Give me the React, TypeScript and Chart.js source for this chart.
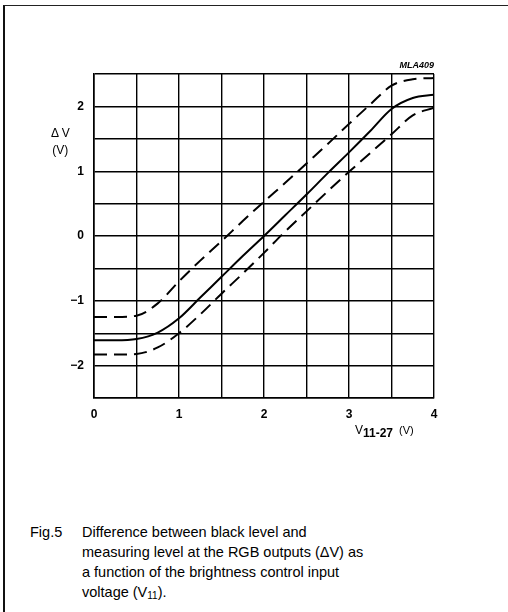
import React, { useEffect, useRef } from "react";
import { Chart, registerables } from "chart.js";

Chart.register(...registerables);

const xValues = [0, 0.25, 0.5, 0.75, 1, 1.25, 1.5, 1.75, 2, 2.25, 2.5, 2.75, 3, 3.25, 3.5, 3.75, 4];
const typicalDV = [-1.61, -1.61, -1.59, -1.49, -1.27, -0.95, -0.63, -0.31, 0, 0.32, 0.64, 0.97, 1.29, 1.62, 1.96, 2.13, 2.18];
const upperDV = [-1.25, -1.25, -1.23, -1.04, -0.7, -0.38, -0.08, 0.23, 0.53, 0.82, 1.12, 1.42, 1.73, 2.03, 2.32, 2.42, 2.44];
const lowerDV = [-1.83, -1.83, -1.82, -1.72, -1.5, -1.21, -0.89, -0.58, -0.26, 0.07, 0.38, 0.69, 0.99, 1.28, 1.57, 1.86, 1.98];
const xTickLabels = ["0", "1", "2", "3", "4"];
const yTickLabels = ["\u22122", "\u22121", "0", "1", "2"];

const toPoints = (ys: number[]) => xValues.map((x, i) => ({ x, y: ys[i] }));

export default function App() {
  const ref = useRef<HTMLCanvasElement | null>(null);

  useEffect(() => {
    if (!ref.current) return;
    const chart = new Chart(ref.current, {
      type: "line",
      data: {
        datasets: [
          {
            data: toPoints(upperDV),
            borderColor: "#000",
            borderWidth: 2,
            borderDash: [13, 7],
            pointRadius: 0,
            cubicInterpolationMode: "monotone",
          },
          {
            data: toPoints(typicalDV),
            borderColor: "#000",
            borderWidth: 2,
            pointRadius: 0,
            cubicInterpolationMode: "monotone",
          },
          {
            data: toPoints(lowerDV),
            borderColor: "#000",
            borderWidth: 2,
            borderDash: [13, 7],
            pointRadius: 0,
            cubicInterpolationMode: "monotone",
          },
        ],
      },
      options: {
        animation: false,
        responsive: false,
        devicePixelRatio: 1,
        layout: { padding: { left: 0, top: 74, right: 74, bottom: 0 } },
        plugins: { legend: { display: false }, tooltip: { enabled: false } },
        scales: {
          x: {
            type: "linear",
            min: 0,
            max: 4,
            afterFit: (s: any) => {
              s.height = 62;
            },
            grid: { color: "#000", lineWidth: 1.4, drawTicks: false },
            border: { color: "#000", width: 1.6 },
            ticks: {
              stepSize: 0.5,
              padding: 9,
              color: "#000",
              maxRotation: 0,
              autoSkip: false,
              font: { family: "Liberation Sans", size: 12, weight: "bold" },
              callback: (v: any) => (Number.isInteger(v) ? xTickLabels[v] : ""),
            },
          },
          y: {
            type: "linear",
            min: -2.5,
            max: 2.5,
            afterFit: (s: any) => {
              s.width = 94;
            },
            grid: { color: "#000", lineWidth: 1.4, drawTicks: false },
            border: { color: "#000", width: 1.6 },
            ticks: {
              stepSize: 0.5,
              padding: 10,
              color: "#000",
              autoSkip: false,
              font: { family: "Liberation Sans", size: 12, weight: "bold" },
              callback: (v: any) => (Number.isInteger(v) ? yTickLabels[v + 2] : ""),
            },
          },
        },
      },
    });
    return () => chart.destroy();
  }, []);

  const font = "'Liberation Sans', Arial, sans-serif";
  return (
    <div style={{ position: "fixed", left: 0, top: 0, width: 508, height: 612, background: "#fff", overflow: "hidden", fontFamily: font, color: "#000" }}>
      <div style={{ position: "absolute", left: 3, top: 5, width: 560, height: 640, borderLeft: "2px solid #111", borderTop: "1.5px solid #222" }} />
      <canvas ref={ref} width={508} height={460} style={{ position: "absolute", left: 0, top: 0 }} />
      <div style={{ position: "absolute", right: 74, top: 60, fontSize: 9, fontStyle: "italic", fontWeight: "bold" }}>MLA409</div>
      <div style={{ position: "absolute", left: 51, top: 125, fontSize: 12, lineHeight: "17px", textAlign: "center" }}>
        <div>{"\u0394"} V</div>
        <div>(V)</div>
      </div>
      <div style={{ position: "absolute", left: 355, top: 423, fontSize: 12, whiteSpace: "nowrap" }}>
        V<sub style={{ fontSize: 12, fontWeight: "bold", verticalAlign: "-3px" }}>11-27</sub>
        <span style={{ marginLeft: 6, fontSize: 11 }}>(V)</span>
      </div>
      <div style={{ position: "absolute", left: 30, top: 522, fontSize: 14.5, lineHeight: "20px" }}>
        <div style={{ display: "flex" }}>
          <div style={{ width: 52 }}>Fig.5</div>
          <div>
            Difference between black level and
            <br />
            measuring level at the RGB outputs ({"\u0394"}V) as
            <br />
            a function of the brightness control input
            <br />
            voltage (V<sub style={{ fontSize: 10, verticalAlign: "-2px" }}>11</sub>).
          </div>
        </div>
      </div>
    </div>
  );
}
